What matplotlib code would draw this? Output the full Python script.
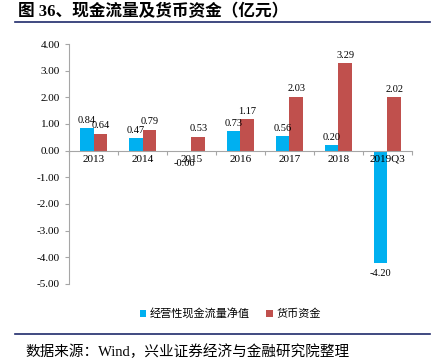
import matplotlib
matplotlib.use("Agg")
import matplotlib.pyplot as plt
import numpy as np

plt.rcParams['font.family'] = ['Liberation Serif', 'Noto Sans CJK SC']

categories = ["2013", "2014", "2015", "2016", "2017", "2018", "2019Q3"]
cash_flow = [0.84, 0.47, -0.06, 0.73, 0.56, 0.20, -4.20]
money_funds = [0.64, 0.79, 0.53, 1.17, 2.03, 3.29, 2.02]
y_ticks = [4, 3, 2, 1, 0, -1, -2, -3, -4, -5]

blue = "#00B0F0"
red = "#C0504D"

fig = plt.figure(figsize=(4.35, 3.6), dpi=100)
ax = fig.add_axes([69/435, 1-284/360, 343/435, 240/360])

x = np.arange(len(categories))
w = 0.285
ax.bar(x - w/2, cash_flow, w, color=blue, label="经营性现金流量净值")
ax.bar(x + w/2, money_funds, w, color=red, label="货币资金")

# data labels
for xi, v in zip(x - w/2, cash_flow):
    if v >= 0:
        ax.text(xi, v + 0.12, f"{v:.2f}", ha="center", va="bottom", fontsize=7.5)
    else:
        ax.text(xi, v - 0.25, f"{v:.2f}", ha="center", va="top", fontsize=7.5)
for xi, v in zip(x + w/2, money_funds):
    ax.text(xi, v + 0.12, f"{v:.2f}", ha="center", va="bottom", fontsize=7.5)

ax.set_xlim(-0.5, len(categories) - 0.5)
ax.set_ylim(-5, 4)
ax.set_yticks(y_ticks)
ax.set_yticklabels([f"{t:.2f}" for t in y_ticks], fontsize=8)

# x axis sits at zero, ticks between categories
ax.spines['bottom'].set_position(('data', 0))
ax.spines['top'].set_visible(False)
ax.spines['right'].set_visible(False)
ax.spines['left'].set_color("#A6A6A6")
ax.spines['bottom'].set_color("#A6A6A6")
ax.set_xticks(np.arange(len(categories) + 1) - 0.5)
ax.set_xticklabels([])
ax.set_xticks(x, minor=True)
ax.set_xticklabels(categories, minor=True, fontsize=8)
ax.tick_params(axis='x', which='major', length=3, color="#A6A6A6")
ax.tick_params(axis='x', which='minor', length=0, pad=3)
ax.tick_params(axis='y', length=3, color="#A6A6A6")

ax.legend(loc="upper center", bbox_to_anchor=(0.47, -0.06), ncol=2, frameon=False,
          fontsize=8, handlelength=0.6, handleheight=0.6, handletextpad=0.3,
          columnspacing=1.5)

# title and source
fig.text(18/435, 1-12/360, "图 36、现金流量及货币资金（亿元）", fontsize=12,
         fontweight="bold", va="center", ha="left")
fig.add_artist(plt.Line2D([15/435, 430/435], [1-22/360, 1-22/360], color="#1F2A6B", lw=1.2))
fig.add_artist(plt.Line2D([15/435, 430/435], [1-334/360, 1-334/360], color="#1F2A6B", lw=1.2))
fig.text(25/435, 1-352/360, "数据来源：Wind，兴业证券经济与金融研究院整理", fontsize=10.5,
         va="center", ha="left")

fig.savefig("out.png", dpi=100)
